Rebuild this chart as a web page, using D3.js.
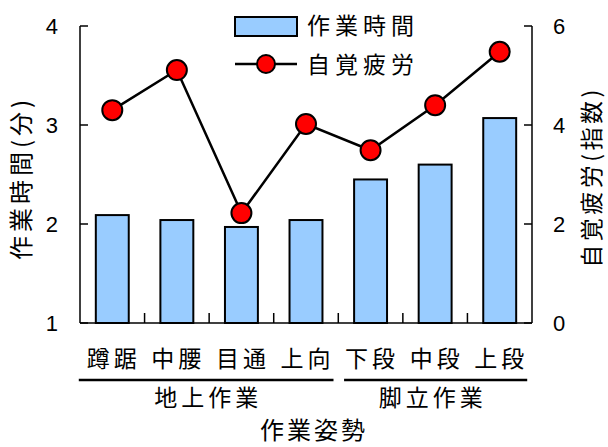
<!DOCTYPE html>
<html>
<head>
<meta charset="utf-8">
<script src="https://cdn.jsdelivr.net/npm/d3@7"></script>
<style>
  html, body { margin: 0; padding: 0; background: #fff; }
  svg { display: block; }
  .jp { font-family: "Noto Sans CJK JP", "Noto Sans", sans-serif; }
  .num { font-family: "Liberation Sans", Arial, sans-serif; }
</style>
</head>
<body>
<svg id="chart" width="608" height="447"></svg>
<script>
// Work posture categories
const categories = ["蹲踞", "中腰", "目通", "上向", "下段", "中段", "上段"];
// Work time in minutes (bars, left axis)
const workTime = [2.09, 2.04, 1.97, 2.04, 2.45, 2.60, 3.07];
// Subjective fatigue index (line, right axis)
const fatigue = [4.30, 5.11, 2.22, 4.02, 3.49, 4.40, 5.48];
// Category groups
const groupNames = ["地上作業", "脚立作業"];
const groupMembers = [["蹲踞", "中腰", "目通", "上向"], ["下段", "中段", "上段"]];
// Axis ticks
const leftTicks = [1, 2, 3, 4];
const rightTicks = [0, 2, 4, 6];
const seriesNames = ["作業時間", "自覚疲労"];

const svg = d3.select("#chart");
const plotL = 80, plotR = 532, plotT = 26, plotB = 323;

const x = d3.scaleBand().domain(categories).range([plotL, plotR]).padding(0);
const yL = d3.scaleLinear().domain([1, 4]).range([plotB, plotT]);
const yR = d3.scaleLinear().domain([0, 6]).range([plotB, plotT]);
const bw = x.bandwidth();
const barW = bw * 0.51;

// Bars
svg.append("g").selectAll("rect").data(categories).join("rect")
  .attr("x", d => x(d) + (bw - barW) / 2)
  .attr("y", (d, i) => yL(workTime[i]))
  .attr("width", barW)
  .attr("height", (d, i) => yL(1) - yL(workTime[i]))
  .attr("fill", "#99ccff")
  .attr("stroke", "#000")
  .attr("stroke-width", 2);

// Axes frame
const ax = svg.append("g").attr("stroke", "#000").attr("stroke-width", 1.5).attr("fill", "none");
ax.append("line").attr("x1", plotL).attr("x2", plotL).attr("y1", plotT).attr("y2", plotB);
ax.append("line").attr("x1", plotR).attr("x2", plotR).attr("y1", plotT).attr("y2", plotB);
ax.append("line").attr("x1", plotL).attr("x2", plotR).attr("y1", plotB).attr("y2", plotB);
leftTicks.forEach(t => ax.append("line").attr("x1", plotL).attr("x2", plotL + 8).attr("y1", yL(t)).attr("y2", yL(t)));
rightTicks.forEach(t => ax.append("line").attr("x1", plotR).attr("x2", plotR - 8).attr("y1", yR(t)).attr("y2", yR(t)));
categories.slice(1).forEach(c => ax.append("line").attr("x1", x(c)).attr("x2", x(c)).attr("y1", plotB).attr("y2", plotB - 10));

// Tick labels
svg.append("g").attr("class", "num").attr("font-size", 22).attr("text-anchor", "end")
  .selectAll("text").data(leftTicks).join("text")
  .attr("x", 58).attr("y", d => yL(d) + 8).text(d => d);
svg.append("g").attr("class", "num").attr("font-size", 22).attr("text-anchor", "start")
  .selectAll("text").data(rightTicks).join("text")
  .attr("x", 553).attr("y", d => yR(d) + 8).text(d => d);

// Fatigue line and markers
const line = d3.line().x((d, i) => x(categories[i]) + bw / 2).y(d => yR(d));
svg.append("path").datum(fatigue).attr("d", line)
  .attr("fill", "none").attr("stroke", "#000").attr("stroke-width", 2.5);
svg.append("g").selectAll("circle").data(fatigue).join("circle")
  .attr("cx", (d, i) => x(categories[i]) + bw / 2)
  .attr("cy", d => yR(d))
  .attr("r", 10)
  .attr("fill", "#ff0000").attr("stroke", "#000").attr("stroke-width", 2);

// Category labels
const catG = svg.append("g").attr("class", "jp").attr("font-size", 23).attr("text-anchor", "middle");
const catText = catG.selectAll("text").data(categories).join("text")
  .attr("x", d => x(d) + bw / 2 + 1.5).attr("y", 367)
  .attr("letter-spacing", 4)
  .text(d => d);

// Group brackets and labels
const boxes = {};
catText.each(function(d) { boxes[d] = this.getBBox(); });
groupNames.forEach((g, gi) => {
  const mem = groupMembers[gi];
  const x0 = boxes[mem[0]].x - (gi === 0 ? 8 : 1);
  const x1 = boxes[mem[mem.length - 1]].x + boxes[mem[mem.length - 1]].width - 1;
  svg.append("line").attr("x1", x0).attr("x2", x1).attr("y1", 380).attr("y2", 380)
    .attr("stroke", "#000").attr("stroke-width", 2.5);
  svg.append("text").attr("class", "jp").attr("font-size", 23).attr("text-anchor", "middle")
    .attr("letter-spacing", 4)
    .attr("x", (x0 + x1) / 2 + 2 - (gi === 1 ? 5 : 0)).attr("y", 406).text(g);
});

// Axis titles
svg.append("text").attr("class", "jp").attr("font-size", 24).attr("text-anchor", "middle")
  .attr("letter-spacing", 3).attr("x", 314).attr("y", 439).text("作業姿勢");
svg.append("text").attr("class", "jp").attr("font-size", 24).attr("text-anchor", "middle")
  .attr("letter-spacing", 4)
  .attr("transform", "translate(30,178) rotate(-90)").text("作業時間(分)");
svg.append("text").attr("class", "jp").attr("font-size", 23).attr("text-anchor", "middle")
  .attr("letter-spacing", 3.5)
  .attr("transform", "translate(600,177) rotate(-90)").text("自覚疲労(指数)");

// Legend
const lg = svg.append("g");
lg.append("rect").attr("x", 235).attr("y", 17).attr("width", 62).attr("height", 19)
  .attr("fill", "#99ccff").attr("stroke", "#000").attr("stroke-width", 2);
lg.append("line").attr("x1", 235).attr("x2", 297).attr("y1", 64).attr("y2", 64)
  .attr("stroke", "#000").attr("stroke-width", 2.5);
lg.append("circle").attr("cx", 266).attr("cy", 64).attr("r", 9)
  .attr("fill", "#ff0000").attr("stroke", "#000").attr("stroke-width", 2);
lg.selectAll("text").data(seriesNames).join("text")
  .attr("class", "jp").attr("font-size", 23).attr("letter-spacing", 5)
  .attr("x", 307).attr("y", (d, i) => 34 + i * 39).text(d => d);
</script>
</body>
</html>
